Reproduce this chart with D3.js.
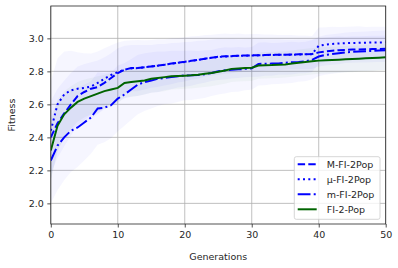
<!DOCTYPE html>
<html>
<head>
<meta charset="utf-8">
<script src="https://cdn.jsdelivr.net/npm/d3@7"></script>
<style>
  body { margin: 0; background: #fff; }
  svg text { font-family: "DejaVu Sans", sans-serif; fill: #262626; }
</style>
</head>
<body>
<div id="chart"></div>
<script>
// ---------------------------------------------------------------------------
// Data

const generations = d3.range(0, 51);

const meanMFI = [2.40, 2.485, 2.545, 2.60, 2.65, 2.675, 2.695, 2.705, 2.73, 2.76,
  2.79, 2.81, 2.82, 2.82, 2.825, 2.83, 2.835, 2.84, 2.847, 2.853,
  2.858, 2.864, 2.87, 2.877, 2.883, 2.888, 2.891, 2.893, 2.895, 2.896,
  2.897, 2.898, 2.899, 2.90, 2.90, 2.901, 2.902, 2.903, 2.903, 2.905,
  2.915, 2.92, 2.925, 2.928, 2.93, 2.932, 2.933, 2.934, 2.935, 2.936, 2.937];

const meanMuFI = [2.44, 2.60, 2.66, 2.685, 2.695, 2.70, 2.708, 2.73, 2.755, 2.778,
  2.795, 2.81, 2.818, 2.82, 2.824, 2.83, 2.834, 2.84, 2.846, 2.852,
  2.857, 2.863, 2.869, 2.876, 2.882, 2.887, 2.89, 2.892, 2.894, 2.895,
  2.896, 2.897, 2.898, 2.899, 2.90, 2.90, 2.901, 2.902, 2.903, 2.904,
  2.955, 2.962, 2.966, 2.969, 2.971, 2.972, 2.973, 2.974, 2.975, 2.975, 2.976];

const meanSmallMFI = [2.26, 2.35, 2.40, 2.44, 2.46, 2.49, 2.52, 2.575, 2.58, 2.595,
  2.635, 2.66, 2.69, 2.72, 2.735, 2.745, 2.755, 2.76, 2.765, 2.77,
  2.775, 2.776, 2.778, 2.783, 2.79, 2.80, 2.806, 2.81, 2.812, 2.815,
  2.818, 2.845, 2.846, 2.847, 2.848, 2.852, 2.855, 2.857, 2.86, 2.87,
  2.89, 2.90, 2.905, 2.91, 2.915, 2.918, 2.92, 2.922, 2.924, 2.926, 2.928];

const meanFI = [2.32, 2.47, 2.54, 2.58, 2.615, 2.635, 2.65, 2.665, 2.68, 2.69,
  2.70, 2.73, 2.735, 2.74, 2.745, 2.755, 2.76, 2.765, 2.77, 2.772,
  2.774, 2.776, 2.78, 2.785, 2.79, 2.797, 2.805, 2.815, 2.818, 2.82,
  2.822, 2.835, 2.837, 2.838, 2.84, 2.842, 2.847, 2.852, 2.857, 2.861,
  2.865, 2.867, 2.869, 2.871, 2.873, 2.875, 2.877, 2.879, 2.881, 2.883, 2.885];

// spread of the shaded bands (mean +/- std)
const stdMFI = [0.22, 0.21, 0.20, 0.19, 0.18, 0.17, 0.16, 0.16, 0.155, 0.15,
  0.15, 0.145, 0.14, 0.14, 0.135, 0.13, 0.13, 0.125, 0.125, 0.12,
  0.12, 0.115, 0.115, 0.11, 0.11, 0.11, 0.105, 0.105, 0.10, 0.10,
  0.10, 0.10, 0.095, 0.095, 0.095, 0.09, 0.09, 0.09, 0.09, 0.09,
  0.085, 0.085, 0.085, 0.085, 0.08, 0.08, 0.08, 0.08, 0.08, 0.08, 0.08];

const stdMuFI = [0.30, 0.28, 0.26, 0.24, 0.22, 0.21, 0.20, 0.19, 0.185, 0.18,
  0.18, 0.175, 0.17, 0.17, 0.165, 0.16, 0.16, 0.155, 0.155, 0.15,
  0.15, 0.15, 0.145, 0.145, 0.14, 0.14, 0.14, 0.135, 0.135, 0.13,
  0.13, 0.13, 0.125, 0.125, 0.12, 0.12, 0.12, 0.115, 0.115, 0.11,
  0.11, 0.105, 0.105, 0.10, 0.10, 0.10, 0.10, 0.095, 0.095, 0.095, 0.095];

const stdSmallMFI = [0.26, 0.27, 0.26, 0.25, 0.24, 0.23, 0.22, 0.22, 0.21, 0.20,
  0.20, 0.19, 0.185, 0.18, 0.175, 0.17, 0.165, 0.16, 0.16, 0.155,
  0.15, 0.15, 0.145, 0.145, 0.14, 0.14, 0.14, 0.135, 0.135, 0.13,
  0.13, 0.13, 0.13, 0.125, 0.125, 0.125, 0.125, 0.12, 0.12, 0.12,
  0.12, 0.12, 0.12, 0.12, 0.12, 0.12, 0.12, 0.12, 0.12, 0.12, 0.12];

const stdFI = [0.18, 0.16, 0.14, 0.13, 0.12, 0.115, 0.11, 0.105, 0.10, 0.10,
  0.095, 0.09, 0.09, 0.09, 0.085, 0.085, 0.085, 0.085, 0.08, 0.08,
  0.08, 0.08, 0.08, 0.08, 0.08, 0.08, 0.08, 0.08, 0.08, 0.08,
  0.08, 0.08, 0.08, 0.08, 0.08, 0.08, 0.08, 0.08, 0.08, 0.08,
  0.08, 0.08, 0.08, 0.08, 0.08, 0.08, 0.08, 0.08, 0.08, 0.08, 0.08];

const seriesNames = ['M-FI-2Pop', 'μ-FI-2Pop', 'm-FI-2Pop', 'FI-2-Pop'];
const xTicks = [0, 10, 20, 30, 40, 50];
const yTicks = [2.0, 2.2, 2.4, 2.6, 2.8, 3.0];

// ---------------------------------------------------------------------------
// Layout

const width = 398;
const height = 268;
const plot = { left: 50.8, right: 385.7, top: 6, bottom: 224 };

const series = [
  { name: seriesNames[0], mean: meanMFI, std: stdMFI, color: '#0000ff', dash: '7.4,3.2' },
  { name: seriesNames[1], mean: meanMuFI, std: stdMuFI, color: '#0000ff', dash: '2,3.3' },
  { name: seriesNames[2], mean: meanSmallMFI, std: stdSmallMFI, color: '#0000ff', dash: '12.8,3.2,2,3.2' },
  { name: seriesNames[3], mean: meanFI, std: stdFI, color: '#006400', dash: null }
];

const x = d3.scaleLinear().domain([0, 50]).range([plot.left, plot.right]);
const y = d3.scaleLinear().domain([1.875, 3.196]).range([plot.bottom, plot.top]);

const svg = d3.select('#chart').append('svg')
  .attr('width', width)
  .attr('height', height);

svg.append('defs').append('clipPath').attr('id', 'clip')
  .append('rect')
  .attr('x', plot.left).attr('y', plot.top)
  .attr('width', plot.right - plot.left)
  .attr('height', plot.bottom - plot.top);

// grid
const grid = svg.append('g');
grid.selectAll('.vgrid').data(xTicks).enter().append('line')
  .attr('x1', d => x(d)).attr('x2', d => x(d))
  .attr('y1', plot.top).attr('y2', plot.bottom)
  .attr('stroke', '#b0b0b0').attr('stroke-width', 0.8);
grid.selectAll('.hgrid').data(yTicks).enter().append('line')
  .attr('x1', plot.left).attr('x2', plot.right)
  .attr('y1', d => y(d)).attr('y2', d => y(d))
  .attr('stroke', '#b0b0b0').attr('stroke-width', 0.8);

// bands
const marks = svg.append('g').attr('clip-path', 'url(#clip)');
series.forEach(s => {
  const area = d3.area()
    .x((d, i) => x(generations[i]))
    .y0((d, i) => y(s.mean[i] - s.std[i]))
    .y1((d, i) => y(s.mean[i] + s.std[i]));
  marks.append('path')
    .datum(s.mean)
    .attr('d', area)
    .attr('fill', s.color)
    .attr('fill-opacity', 0.035);
});

// lines
series.forEach(s => {
  const line = d3.line()
    .x((d, i) => x(generations[i]))
    .y(d => y(d));
  marks.append('path')
    .datum(s.mean)
    .attr('d', line)
    .attr('fill', 'none')
    .attr('stroke', s.color)
    .attr('stroke-width', 2)
    .attr('stroke-dasharray', s.dash);
});

// axes
const xAxis = d3.axisBottom(x).tickValues(xTicks).tickSize(3.5).tickPadding(3.5).tickFormat(d3.format('d'));
const yAxis = d3.axisLeft(y).tickValues(yTicks).tickSize(3.5).tickPadding(3.5).tickFormat(d3.format('.1f'));

const gx = svg.append('g').attr('transform', `translate(0,${plot.bottom})`).call(xAxis);
const gy = svg.append('g').attr('transform', `translate(${plot.left},0)`).call(yAxis);
[gx, gy].forEach(g => {
  g.select('.domain').remove();
  g.selectAll('.tick line').attr('stroke', '#262626').attr('stroke-width', 0.8);
  g.selectAll('.tick text').attr('font-size', 9.5).style('font-family', '"DejaVu Sans", sans-serif');
});

// spines
svg.append('rect')
  .attr('x', plot.left).attr('y', plot.top)
  .attr('width', plot.right - plot.left)
  .attr('height', plot.bottom - plot.top)
  .attr('fill', 'none')
  .attr('stroke', '#262626')
  .attr('stroke-width', 0.8);

// axis labels
svg.append('text')
  .attr('x', (plot.left + plot.right) / 2)
  .attr('y', 260)
  .attr('text-anchor', 'middle')
  .attr('font-size', 9.5)
  .text('Generations');

svg.append('text')
  .attr('transform', `translate(15,${(plot.top + plot.bottom) / 2}) rotate(-90)`)
  .attr('text-anchor', 'middle')
  .attr('font-size', 9.5)
  .text('Fitness');

// legend
const legend = svg.append('g');
legend.append('rect')
  .attr('x', 294.3).attr('y', 156.7)
  .attr('width', 85.7).attr('height', 62.6)
  .attr('rx', 2)
  .attr('fill', '#fff').attr('fill-opacity', 0.8)
  .attr('stroke', '#cccccc').attr('stroke-width', 0.8);

const rows = legend.selectAll('.row').data(series).enter().append('g')
  .attr('transform', (d, i) => `translate(0,${164.3 + i * 15})`);
rows.append('line')
  .attr('x1', 297.7).attr('x2', 316.7)
  .attr('stroke', d => d.color)
  .attr('stroke-width', 2)
  .attr('stroke-dasharray', d => d.dash);
rows.append('text')
  .attr('x', 326.7)
  .attr('dy', '0.35em')
  .attr('font-size', 9.5)
  .text(d => d.name);
</script>
</body>
</html>
